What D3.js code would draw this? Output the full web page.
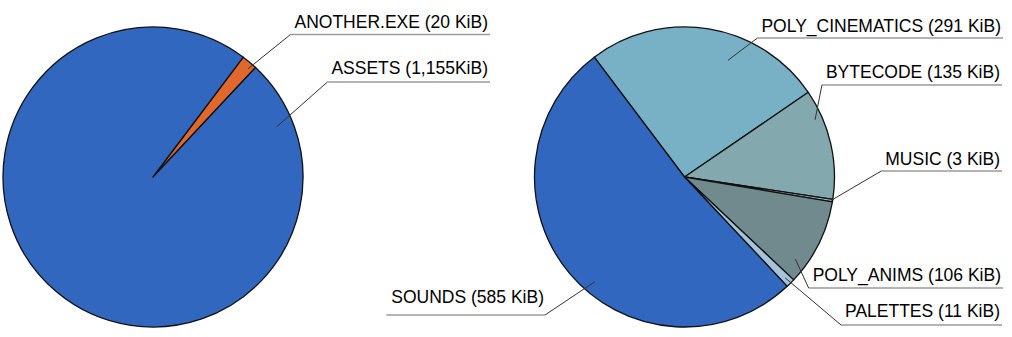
<!DOCTYPE html>
<html>
<head>
<meta charset="utf-8">
<script src="https://cdn.jsdelivr.net/npm/d3@7"></script>
<style>
  body { margin: 0; background: #fff; }
  svg { display: block; }
  text { font-family: "Liberation Sans", Arial, sans-serif; font-size: 17.5px; fill: #000; }
</style>
</head>
<body>
<div id="chart"></div>
<script>
// left pie: the executable vs its data file
const exeNames = ['ANOTHER.EXE', 'ASSETS']
const exeSizes = [20, 1155]
const exeLabels = ['ANOTHER.EXE (20 KiB)', 'ASSETS (1,155KiB)']

// right pie: what is inside the assets
const assetNames = ['POLY_CINEMATICS', 'BYTECODE', 'MUSIC', 'POLY_ANIMS', 'PALETTES', 'SOUNDS']
const assetSizes = [291, 135, 3, 106, 11, 585]
const assetLabels = ['POLY_CINEMATICS (291 KiB)', 'BYTECODE (135 KiB)', 'MUSIC (3 KiB)',
    'POLY_ANIMS (106 KiB)', 'PALETTES (11 KiB)', 'SOUNDS (585 KiB)']

const width = 1012, height = 337

const svg = d3.select('#chart')
    .append('svg')
    .attr('width', width)
    .attr('height', height)

// label layout: row of the underline, where the leader line grabs the slice (t = along slice, rf = radius fraction)
const pies = [
    {
        names: exeNames, values: exeSizes, labels: exeLabels,
        cx: 153, cy: 177, r: 150, start: 37,
        colors: ['#e0682c', '#3267bf'],
        layout: [
            {lineY: 34.5, t: 0.7, rf: 0.96, side: 'right', edge: 490, gap: 6.5},
            {lineY: 82, t: 0.07, rf: 0.89, side: 'right', edge: 490, gap: 8}
        ]
    },
    {
        names: assetNames, values: assetSizes, labels: assetLabels,
        cx: 684.5, cy: 177, r: 150, start: -37,
        colors: ['#78b1c6', '#83a9af', '#9fb9bd', '#718a8e', '#a6c3da', '#3267bf'],
        layout: [
            {lineY: 38, t: 0.62, rf: 0.83, side: 'right', edge: 1003, gap: 6.5},
            {lineY: 85, t: 0.25, rf: 0.95, side: 'right', edge: 1002, gap: 7.5},
            {lineY: 171, t: 0.5, rf: 0.99, side: 'right', edge: 1002, gap: 6},
            {lineY: 288, t: 0.8, rf: 0.92, side: 'right', edge: 1003, gap: 7},
            {lineY: 325, t: 0.5, rf: 0.95, side: 'right', edge: 1002, gap: 8},
            {lineY: 315, t: 0.45, rf: 0.92, side: 'left', edge: 545, gap: 12.5}
        ]
    }
]

const rad = deg => deg * Math.PI / 180

pies.forEach(p => {
    const pie = d3.pie()
        .sort(null)
        .startAngle(rad(p.start))
        .endAngle(rad(p.start + 360))

    const arcs = pie(p.values)

    const arc = d3.arc()
        .innerRadius(0)
        .outerRadius(p.r)

    const g = svg.append('g')
        .attr('transform', `translate(${p.cx},${p.cy})`)

    g.selectAll('path')
        .data(arcs)
        .enter()
        .append('path')
        .attr('d', arc)
        .attr('fill', (d, i) => p.colors[i])
        .attr('stroke', '#111')
        .attr('stroke-width', 1.3)
        .attr('stroke-linejoin', 'round')

    // labels with leader lines
    arcs.forEach((d, i) => {
        const lay = p.layout[i]
        const a = d.startAngle + (d.endAngle - d.startAngle) * lay.t
        const ax = p.cx + Math.sin(a) * p.r * lay.rf
        const ay = p.cy - Math.cos(a) * p.r * lay.rf

        const txt = svg.append('text')
            .attr('x', lay.side === 'right' ? lay.edge - 2 : lay.edge - 1)
            .attr('y', lay.lineY - lay.gap)
            .attr('text-anchor', 'end')
            .text(p.labels[i])

        const bb = txt.node().getBBox()
        let x0, x1, elbow
        if (lay.side === 'right') {
            x0 = bb.x - 4
            x1 = lay.edge
            elbow = x0
        } else {
            x0 = bb.x - 5
            x1 = lay.edge
            elbow = x1
        }

        svg.append('line')
            .attr('x1', x0).attr('x2', x1)
            .attr('y1', lay.lineY).attr('y2', lay.lineY)
            .attr('stroke', '#9a9a9a')
            .attr('stroke-width', 1.5)

        svg.append('line')
            .attr('x1', ax).attr('y1', ay)
            .attr('x2', elbow).attr('y2', lay.lineY)
            .attr('stroke', '#333')
            .attr('stroke-width', 1)
    })
})
</script>
</body>
</html>
